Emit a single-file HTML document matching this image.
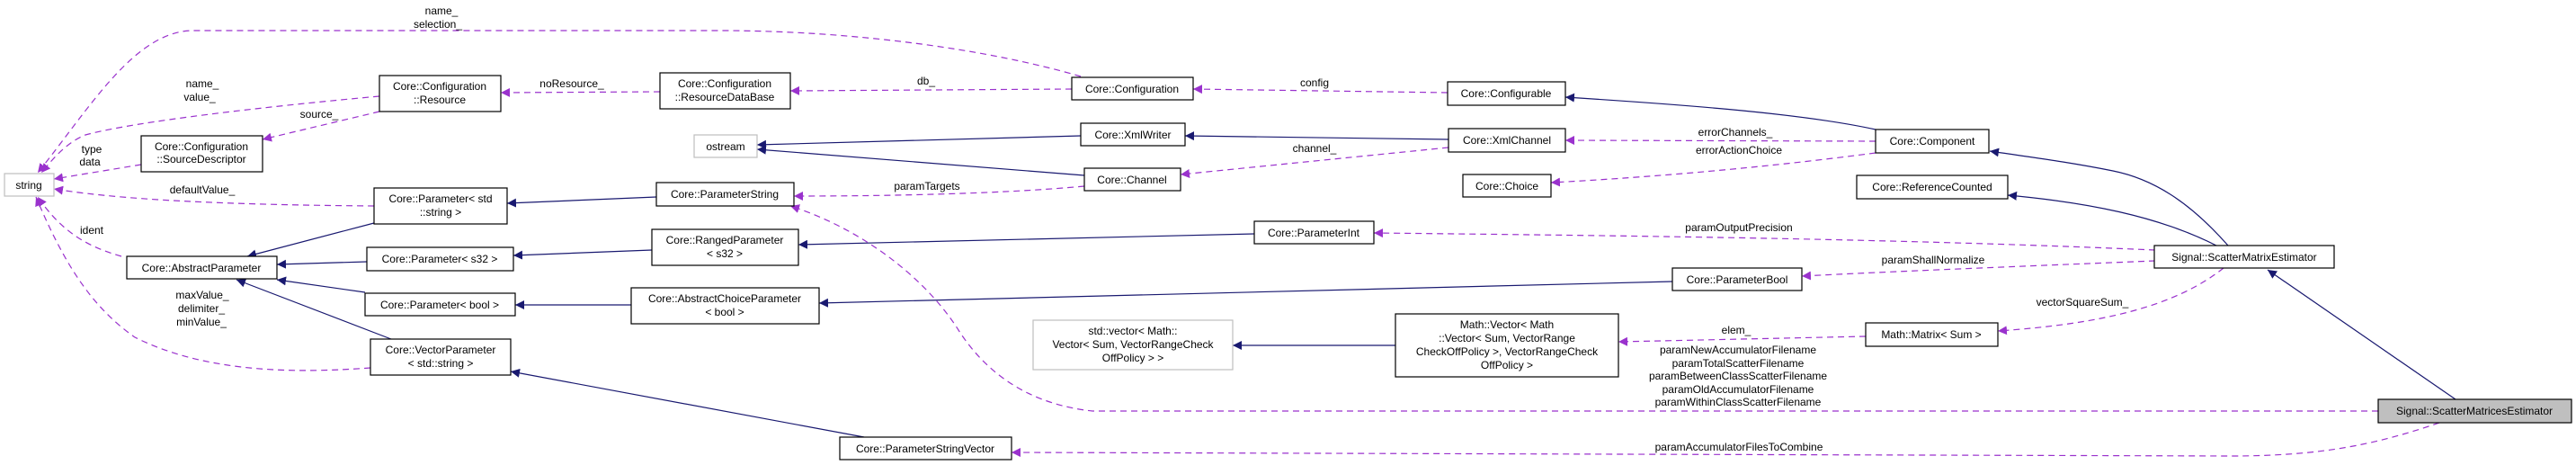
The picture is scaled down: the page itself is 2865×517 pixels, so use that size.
<!DOCTYPE html>
<html><head><meta charset="utf-8"><style>
html,body{margin:0;padding:0;background:#fff;}
svg{display:block;}
text{font-family:"Liberation Sans",Arial,sans-serif;font-size:12px;fill:#000;}
.b{fill:#fff;stroke:#000;stroke-width:1.2;}
.g{fill:#fff;stroke:#bfbfbf;stroke-width:1.2;}
.s{fill:none;stroke:#191970;stroke-width:1.2;}
.d{fill:none;stroke:#9a32cd;stroke-width:1.2;stroke-dasharray:7,5;}
</style></head><body>
<svg width="2865" height="517" viewBox="0 0 2865 517" xmlns="http://www.w3.org/2000/svg">
<defs>
<marker id="ab" viewBox="0 0 10 10" refX="10" refY="5" markerWidth="10" markerHeight="10" markerUnits="userSpaceOnUse" orient="auto"><path d="M0,0 L10,5 L0,10 z" fill="#191970"/></marker>
<marker id="ap" viewBox="0 0 10 10" refX="10" refY="5" markerWidth="10" markerHeight="10" markerUnits="userSpaceOnUse" orient="auto"><path d="M0,0 L10,5 L0,10 z" fill="#9a32cd"/></marker>
</defs>

<!-- solid edges -->
<g class="s" marker-end="url(#ab)">
<path class="s" d="M416,248 L275,285" marker-end="url(#ab)"/>
<path class="s" d="M408,291 L308,294" marker-end="url(#ab)"/>
<path class="s" d="M406,325 L308,311" marker-end="url(#ab)"/>
<path class="s" d="M435,377 L263,311" marker-end="url(#ab)"/>
<path class="s" d="M730,219 L564,226" marker-end="url(#ab)"/>
<path class="s" d="M725,278 L571,284" marker-end="url(#ab)"/>
<path class="s" d="M702,339 L573,339" marker-end="url(#ab)"/>
<path class="s" d="M961,486 L568,413" marker-end="url(#ab)"/>
<path class="s" d="M1202,151 L842,161" marker-end="url(#ab)"/>
<path class="s" d="M1206,195 L842,166" marker-end="url(#ab)"/>
<path class="s" d="M1611,155 L1318,151" marker-end="url(#ab)"/>
<path class="s" d="M1395,260 L888,272" marker-end="url(#ab)"/>
<path class="s" d="M1860,313 L911,337" marker-end="url(#ab)"/>
<path class="s" d="M1552,384 L1371,384" marker-end="url(#ab)"/>
<path class="s" d="M2086,144 C2000,125 1850,115 1741,108" marker-end="url(#ab)"/>
<path class="s" d="M2478,273 C2440,230 2400,200 2350,190 C2300,180 2260,175 2213,168" marker-end="url(#ab)"/>
<path class="s" d="M2465,273 C2400,240 2320,225 2233,217" marker-end="url(#ab)"/>
<path class="s" d="M2731,444 L2522,300" marker-end="url(#ab)"/>
</g>

<!-- dashed edges -->
<path class="d" d="M1202,85 C1100,55 950,34 800,34 L215,34 C150,34 100,120 42,192" marker-end="url(#ap)"/>
<path class="d" d="M422,107 C300,118 150,135 95,150 C75,158 60,175 46,192" marker-end="url(#ap)"/>
<path class="d" d="M157,183 L60,199" marker-end="url(#ap)"/>
<path class="d" d="M416,229 C300,228 150,225 60,210" marker-end="url(#ap)"/>
<path class="d" d="M135,285 C100,275 70,260 42,219" marker-end="url(#ap)"/>
<path class="d" d="M412,409 C330,415 230,415 150,375 C100,340 70,290 40,219" marker-end="url(#ap)"/>
<path class="d" d="M422,124 L292,155" marker-end="url(#ap)"/>
<path class="d" d="M734,102 L557,103" marker-end="url(#ap)"/>
<path class="d" d="M1192,99 L879,101" marker-end="url(#ap)"/>
<path class="d" d="M1610,103 L1327,99" marker-end="url(#ap)"/>
<path class="d" d="M1611,164 L1313,194" marker-end="url(#ap)"/>
<path class="d" d="M2086,157 L1741,156" marker-end="url(#ap)"/>
<path class="d" d="M2086,170 C1950,188 1820,198 1725,203" marker-end="url(#ap)"/>
<path class="d" d="M1206,207 C1120,215 1000,218 883,218" marker-end="url(#ap)"/>
<path class="d" d="M2397,278 C2100,265 1800,262 1528,259" marker-end="url(#ap)"/>
<path class="d" d="M2397,290 C2250,296 2100,302 2004,307" marker-end="url(#ap)"/>
<path class="d" d="M2473,298 C2420,340 2340,360 2222,368" marker-end="url(#ap)"/>
<path class="d" d="M2075,374 L1800,380" marker-end="url(#ap)"/>
<path class="d" d="M2645,457 L1215,457 C1150,450 1100,420 1066,367 C1030,310 960,255 879,229" marker-end="url(#ap)"/>
<path class="d" d="M2713,470 C2640,495 2580,507 2480,507 L1125,503" marker-end="url(#ap)"/>

<!-- edge labels -->
<g text-anchor="middle">
<text x="491" y="16">name_</text><text x="487" y="31">selection_</text>
<text x="225" y="97">name_</text><text x="222" y="112">value_</text>
<text x="355" y="131">source_</text>
<text x="102" y="170">type</text><text x="100" y="184">data</text>
<text x="225" y="215">defaultValue_</text>
<text x="102" y="260">ident</text>
<text x="225" y="332">maxValue_</text><text x="224" y="347">delimiter_</text><text x="224" y="362">minValue_</text>
<text x="636" y="97">noResource_</text>
<text x="1030" y="94">db_</text>
<text x="1031" y="211">paramTargets</text>
<text x="1462" y="96">config</text>
<text x="1462" y="169">channel_</text>
<text x="1930" y="151">errorChannels_</text>
<text x="1934" y="171">errorActionChoice</text>
<text x="1934" y="257">paramOutputPrecision</text>
<text x="2150" y="293">paramShallNormalize</text>
<text x="2316" y="340">vectorSquareSum_</text>
<text x="1931" y="371">elem_</text>
<text x="1933" y="393">paramNewAccumulatorFilename</text>
<text x="1933" y="408">paramTotalScatterFilename</text>
<text x="1933" y="422">paramBetweenClassScatterFilename</text>
<text x="1933" y="437">paramOldAccumulatorFilename</text>
<text x="1933" y="451">paramWithinClassScatterFilename</text>
<text x="1934" y="501">paramAccumulatorFilesToCombine</text>
</g>

<!-- nodes -->
<g text-anchor="middle">
<rect class="g" x="5" y="193" width="55" height="25"/><text x="32" y="210">string</text>
<rect class="b" x="422" y="84" width="135" height="40"/><text x="489" y="100">Core::Configuration</text><text x="489" y="115">::Resource</text>
<rect class="b" x="157" y="151" width="135" height="40"/><text x="224" y="167">Core::Configuration</text><text x="224" y="181">::SourceDescriptor</text>
<rect class="b" x="416" y="209" width="148" height="40"/><text x="490" y="225">Core::Parameter&lt; std</text><text x="490" y="240">::string &gt;</text>
<rect class="b" x="141" y="285" width="167" height="25"/><text x="224" y="302">Core::AbstractParameter</text>
<rect class="b" x="408" y="275" width="163" height="26"/><text x="489" y="292">Core::Parameter&lt; s32 &gt;</text>
<rect class="b" x="406" y="326" width="167" height="25"/><text x="489" y="343">Core::Parameter&lt; bool &gt;</text>
<rect class="b" x="412" y="377" width="156" height="40"/><text x="490" y="393">Core::VectorParameter</text><text x="490" y="408">&lt; std::string &gt;</text>
<rect class="b" x="734" y="81" width="145" height="40"/><text x="806" y="97">Core::Configuration</text><text x="806" y="112">::ResourceDataBase</text>
<rect class="b" x="1192" y="86" width="135" height="25"/><text x="1259" y="103">Core::Configuration</text>
<rect class="g" x="772" y="150" width="70" height="25"/><text x="807" y="167">ostream</text>
<rect class="b" x="1202" y="137" width="116" height="25"/><text x="1260" y="154">Core::XmlWriter</text>
<rect class="b" x="1206" y="187" width="107" height="25"/><text x="1259" y="204">Core::Channel</text>
<rect class="b" x="730" y="203" width="153" height="26"/><text x="806" y="220">Core::ParameterString</text>
<rect class="b" x="725" y="255" width="163" height="40"/><text x="806" y="271">Core::RangedParameter</text><text x="806" y="286">&lt; s32 &gt;</text>
<rect class="b" x="702" y="320" width="209" height="40"/><text x="806" y="336">Core::AbstractChoiceParameter</text><text x="806" y="351">&lt; bool &gt;</text>
<rect class="g" x="1149" y="356" width="222" height="55"/><text x="1260" y="372">std::vector&lt; Math::</text><text x="1260" y="387">Vector&lt; Sum, VectorRangeCheck</text><text x="1260" y="402">OffPolicy &gt; &gt;</text>
<rect class="b" x="934" y="486" width="191" height="25"/><text x="1029" y="503">Core::ParameterStringVector</text>
<rect class="b" x="1610" y="91" width="131" height="26"/><text x="1675" y="108">Core::Configurable</text>
<rect class="b" x="1611" y="143" width="130" height="26"/><text x="1676" y="160">Core::XmlChannel</text>
<rect class="b" x="1627" y="194" width="98" height="25"/><text x="1676" y="211">Core::Choice</text>
<rect class="b" x="1395" y="246" width="133" height="25"/><text x="1461" y="263">Core::ParameterInt</text>
<rect class="b" x="1860" y="298" width="144" height="25"/><text x="1932" y="315">Core::ParameterBool</text>
<rect class="b" x="1552" y="349" width="248" height="70"/><text x="1676" y="365">Math::Vector&lt; Math</text><text x="1676" y="380">::Vector&lt; Sum, VectorRange</text><text x="1676" y="395">CheckOffPolicy &gt;, VectorRangeCheck</text><text x="1676" y="410">OffPolicy &gt;</text>
<rect class="b" x="2086" y="144" width="126" height="26"/><text x="2149" y="161">Core::Component</text>
<rect class="b" x="2065" y="195" width="168" height="26"/><text x="2149" y="212">Core::ReferenceCounted</text>
<rect class="b" x="2075" y="359" width="147" height="26"/><text x="2148" y="376">Math::Matrix&lt; Sum &gt;</text>
<rect class="b" x="2396" y="273" width="200" height="25"/><text x="2496" y="290">Signal::ScatterMatrixEstimator</text>
<rect x="2645" y="444" width="215" height="26" fill="#bfbfbf" stroke="#000" stroke-width="1.2"/><text x="2752" y="461">Signal::ScatterMatricesEstimator</text>
</g>
</svg>
</body></html>
